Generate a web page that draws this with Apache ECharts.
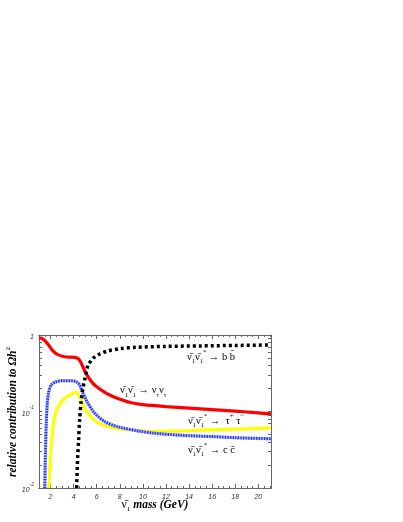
<!DOCTYPE html>
<html><head><meta charset="utf-8">
<script src="https://cdn.jsdelivr.net/npm/echarts@6/dist/echarts.min.js"></script>
<style>html,body{margin:0;padding:0;background:#fff}#c{width:403px;height:522px}</style>
</head><body><div id="c"></div>
<script>
// ---- data ----
const xMajorTicks = [2,4,6,8,10,12,14,16,18,20];
const xMinorTicks = [1.5,2.5,3,3.5,4.5,5,5.5,6.5,7,7.5,8.5,9,9.5,10.5,11,11.5,12.5,13,13.5,14.5,15,15.5,16.5,17,17.5,18.5,19,19.5,20.5,21];
const yLabelValues = [0.01,0.1,1];
const yTicks = [0.01,0.02,0.03,0.04,0.05,0.06,0.07,0.08,0.09,0.1,0.2,0.3,0.4,0.5,0.6,0.7,0.8,0.9,1];

const nuNuBar = [[1.0,0.92],[1.33,0.89],[1.77,0.76],[2.2,0.62],[2.63,0.553],[3.22,0.52],[4.09,0.511],[4.33,0.498],[4.55,0.46],[4.75,0.4],[4.96,0.34],[5.24,0.285],[5.6,0.24],[6.0,0.21],[6.7,0.178],[7.4,0.157],[8.2,0.141],[9.0,0.13],[10,0.123],[12,0.116],[14,0.111],[16,0.106],[18,0.101],[20,0.096],[21.1,0.093]];
const bbBar = [[4.26,0.01],[4.35,0.025],[4.43,0.042],[4.52,0.077],[4.66,0.141],[4.8,0.2],[4.96,0.26],[5.24,0.40],[5.5,0.46],[5.7,0.5],[6.26,0.565],[7.0,0.62],[8.1,0.665],[9.4,0.69],[12,0.71],[15,0.72],[18,0.73],[21.1,0.74]];
const ccBar = [[1.5,0.01],[1.56,0.03],[1.63,0.07],[1.72,0.13],[1.83,0.175],[2.05,0.222],[2.49,0.245],[3.0,0.252],[3.79,0.253],[4.23,0.245],[4.52,0.222],[4.81,0.173],[5.24,0.128],[5.83,0.095],[6.7,0.0737],[7.85,0.063],[9.59,0.0557],[11,0.052],[13.3,0.049],[16,0.047],[18,0.0455],[21.1,0.044]];
const tauTau = [[1.85,0.01],[1.95,0.02],[2.05,0.034],[2.15,0.05],[2.29,0.075],[2.45,0.095],[2.63,0.113],[3.22,0.149],[3.79,0.168],[4.23,0.178],[4.52,0.156],[4.81,0.122],[5.24,0.0947],[5.97,0.0736],[6.7,0.0652],[8.14,0.059],[9.59,0.056],[11,0.0552],[13,0.0556],[15,0.057],[18,0.059],[21.1,0.061]];

const labelBB = '{n|ν̄}{sub|1}{n|ν̄}{sub|1}{sup|*}{n| → b b̄}';
const labelNuNu = '{n|ν̄}{sub|1}{n|ν̄}{sub|1}{n| → ν}{sub|τ}{n|ν}{sub|τ}';
const labelTau = '{n|ν̄}{sub|1}{n|ν̄}{sub|1}{sup|*}{n| →  τ}{sup|+}{n| τ}{sup|−}';
const labelCC = '{n|ν̄}{sub|1}{n|ν̄}{sub|1}{sup|*}{n| → c c̄}';
const xTitle = '{n|ν̄}{sub|1}{m| mass (GeV)}';
const yTitle = '{m|relative contribution to Ωh}{sup|2}';

// ---- chart ----
const SERIF = '"Liberation Serif", "DejaVu Serif", serif';
function rich(color, size){
  return {
    n:{fontFamily:SERIF,fontSize:size,color:color,lineHeight:16,verticalAlign:'middle'},
    m:{fontFamily:SERIF,fontSize:size,color:color,fontStyle:'italic',fontWeight:'bold',lineHeight:16,verticalAlign:'middle'},
    sub:{fontFamily:SERIF,fontSize:size*0.62,color:color,verticalAlign:'bottom',lineHeight:16},
    sup:{fontFamily:SERIF,fontSize:size*0.62,color:color,verticalAlign:'top',lineHeight:16}
  };
}
const AX = '#666';
function xAxisDef(pos, ticks, len, labels){
  return {
    type:'value', min:1, max:21.1, position:pos,
    axisLine:{show:true,lineStyle:{color:AX,width:1}},
    axisTick:{show:true,inside:true,length:len,customValues:ticks,lineStyle:{color:AX}},
    axisLabel:labels?{show:true,customValues:xMajorTicks,fontStyle:'italic',fontSize:7,color:'#333',margin:6,fontFamily:'"Liberation Sans", sans-serif'}:{show:false},
    splitLine:{show:false}
  };
}
function yAxisDef(pos, labels){
  return {
    type:'log', logBase:10, min:0.01, max:1, position:pos,
    axisLine:{show:true,lineStyle:{color:AX,width:1}},
    axisTick:{show:true,inside:true,length:3,customValues:yTicks,lineStyle:{color:AX}},
    axisLabel:labels?{show:true,customValues:yLabelValues,margin:5,
      formatter:function(v){ if (v>=0.999) return '{b|1}'; return '{b|10}{s|-'+Math.round(-Math.log10(v))+'}'; },
      rich:{b:{fontSize:7,fontStyle:'italic',color:'#333',lineHeight:12,verticalAlign:'bottom',fontFamily:'"Liberation Sans", sans-serif'},
            s:{fontSize:5,fontStyle:'italic',color:'#333',lineHeight:12,verticalAlign:'top',fontFamily:'"Liberation Sans", sans-serif'}}}:{show:false},
    splitLine:{show:false}
  };
}
const chart = echarts.init(document.getElementById('c'), null, {renderer:'canvas'});
const common = {type:'line', showSymbol:false, smooth:0.3, xAxisIndex:0, yAxisIndex:0, z:3};
chart.setOption({
  animation:false,
  backgroundColor:'#fff',
  grid:{left:39, right:132, top:335, bottom:34},
  xAxis:[xAxisDef('bottom',xMajorTicks,4,true), xAxisDef('bottom',xMinorTicks,2,false), xAxisDef('top',xMajorTicks,4,false), xAxisDef('top',xMinorTicks,2,false)],
  yAxis:[yAxisDef('left',true), yAxisDef('right',false)],
  series:[
    Object.assign({}, common, {name:'tau', data:tauTau, lineStyle:{color:'#ffff00',width:3.2}}),
    Object.assign({}, common, {name:'cc-bg', data:ccBar, lineStyle:{color:'#aab2ff',width:3}}),
    Object.assign({}, common, {name:'cc', data:ccBar, lineStyle:{color:'#2233ee',width:3,type:[1.3,1.3],cap:'butt'}}),
    Object.assign({}, common, {name:'nunu', data:nuNuBar, lineStyle:{color:'#ff0000',width:3.2}}),
    Object.assign({}, common, {name:'bb', data:bbBar, lineStyle:{color:'#000',width:3.5,type:[3,3],cap:'butt'}})
  ],
  graphic:[
    {type:'text', left:187, top:349, style:{text:labelBB, rich:rich('#111',10.5)}},
    {type:'text', left:120, top:385, style:{text:labelNuNu, rich:rich('#ff0000',10.5)}},
    {type:'text', left:188, top:413, style:{text:labelTau, rich:rich('#ffff00',10.5)}},
    {type:'text', left:188, top:442, style:{text:labelCC, rich:rich('#2233ee',10.5)}},
    {type:'text', x:155, y:505, style:{text:xTitle, rich:rich('#111',11.5), align:'center', verticalAlign:'middle'}},
    {type:'text', x:13, y:412, rotation:Math.PI/2, style:{text:yTitle, rich:rich('#111',11.5), align:'center', verticalAlign:'middle'}}
  ]
});
</script></body></html>
